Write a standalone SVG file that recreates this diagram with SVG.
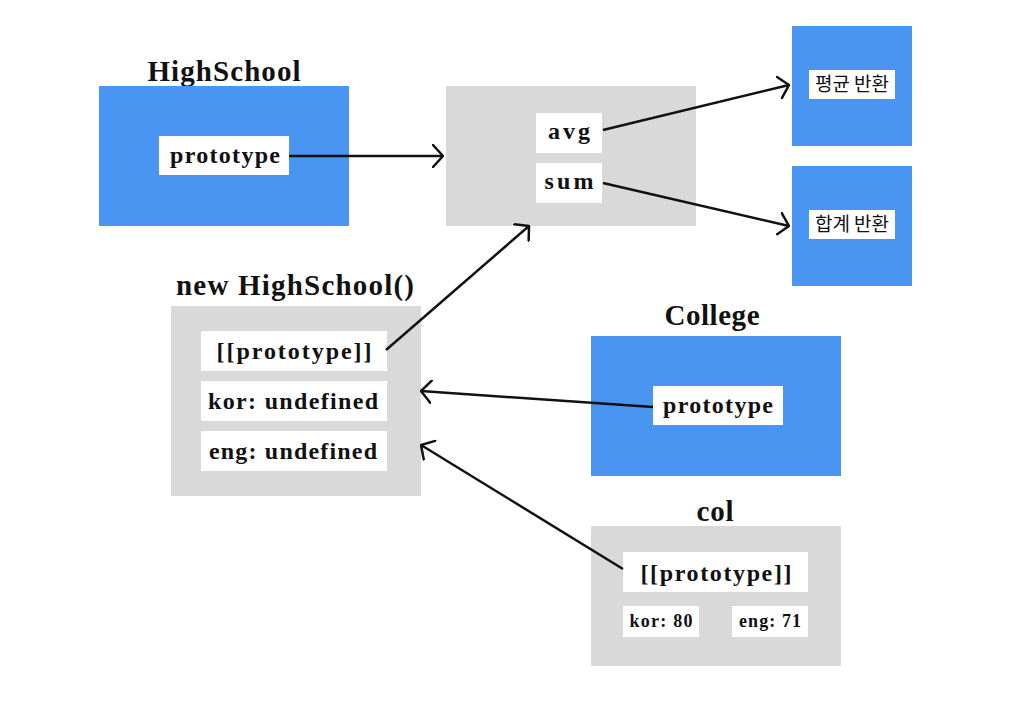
<svg xmlns="http://www.w3.org/2000/svg" width="1012" height="714" viewBox="0 0 1012 714">
<defs>
<style>
.blue{fill:#4A94F2}
.gray{fill:#D9D9D9}
.wb{fill:#FFFFFF}
.title{font-family:"Liberation Serif","DejaVu Serif",serif;font-weight:bold;font-size:29px;fill:#111;text-anchor:middle}
.t{font-family:"Liberation Serif","DejaVu Serif",serif;font-weight:bold;font-size:24px;fill:#111;text-anchor:middle}
.ts{font-family:"Liberation Serif","DejaVu Serif",serif;font-weight:bold;font-size:18px;fill:#111;text-anchor:middle}
.k{font-family:"Noto Sans CJK KR","Noto Sans",sans-serif;font-size:19px;fill:#111;text-anchor:middle}
.c{stroke:#111;stroke-width:2.5;fill:none;marker-end:url(#arr)}
</style>
<marker id="arr" viewBox="0 0 12 24" refX="11" refY="12" markerWidth="12" markerHeight="24" markerUnits="userSpaceOnUse" orient="auto">
<path d="M1,1 L11,12 L1,23" fill="none" stroke="#111" stroke-width="2.5" stroke-linecap="round" stroke-linejoin="round"/>
</marker>
</defs>
<rect width="1012" height="714" fill="#FFFFFF"/>
<g id="highschool">
<text class="title" x="224" y="81" textLength="153">HighSchool</text>
<rect class="blue" x="99" y="86" width="250" height="140"/>
<rect class="wb" x="159" y="136" width="130" height="39"/>
<text class="t" x="225" y="163" textLength="110">prototype</text>
</g>
<g id="proto-obj">
<rect class="gray" x="446" y="86" width="250" height="140"/>
<rect class="wb" x="536" y="113" width="66" height="40"/>
<text class="t" x="569" y="139" textLength="42">avg</text>
<rect class="wb" x="536" y="163" width="66" height="40"/>
<text class="t" x="569" y="189" textLength="49">sum</text>
</g>
<g id="avg-fn">
<rect class="blue" x="792" y="26" width="120" height="120"/>
<rect class="wb" x="809" y="70" width="86" height="29"/>
<text class="k" x="852" y="91">평균 반환</text>
</g>
<g id="sum-fn">
<rect class="blue" x="792" y="166" width="120" height="120"/>
<rect class="wb" x="809" y="210" width="86" height="29"/>
<text class="k" x="852" y="231">합계 반환</text>
</g>
<g id="new-highschool">
<text class="title" x="295" y="295" textLength="238">new HighSchool()</text>
<rect class="gray" x="171" y="306" width="250" height="190"/>
<rect class="wb" x="201" y="331" width="186" height="40"/>
<text class="t" x="294" y="359" textLength="155">[[prototype]]</text>
<rect class="wb" x="201" y="381" width="186" height="40"/>
<text class="t" x="293" y="409" textLength="170">kor: undefined</text>
<rect class="wb" x="201" y="431" width="186" height="40"/>
<text class="t" x="293" y="459" textLength="168">eng: undefined</text>
</g>
<g id="college">
<text class="title" x="712" y="325" textLength="95">College</text>
<rect class="blue" x="591" y="336" width="250" height="140"/>
<rect class="wb" x="653" y="386" width="130" height="39"/>
<text class="t" x="718" y="413" textLength="110">prototype</text>
</g>
<g id="col">
<text class="title" x="715" y="521" textLength="37">col</text>
<rect class="gray" x="591" y="526" width="250" height="140"/>
<rect class="wb" x="623" y="552" width="185" height="40"/>
<text class="t" x="716" y="581" textLength="151">[[prototype]]</text>
<rect class="wb" x="623" y="606" width="76" height="31"/>
<text class="ts" x="661" y="627" textLength="63">kor: 80</text>
<rect class="wb" x="732" y="606" width="76" height="31"/>
<text class="ts" x="770" y="627" textLength="62">eng: 71</text>
</g>
<g id="connectors">
<line class="c" x1="289" y1="156" x2="443" y2="156"/>
<line class="c" x1="603" y1="130" x2="789" y2="85"/>
<line class="c" x1="603" y1="183" x2="789" y2="226"/>
<line class="c" x1="386" y1="350" x2="529" y2="226"/>
<line class="c" x1="653" y1="407" x2="421" y2="391"/>
<line class="c" x1="623" y1="569" x2="421" y2="445"/>
</g>
</svg>
